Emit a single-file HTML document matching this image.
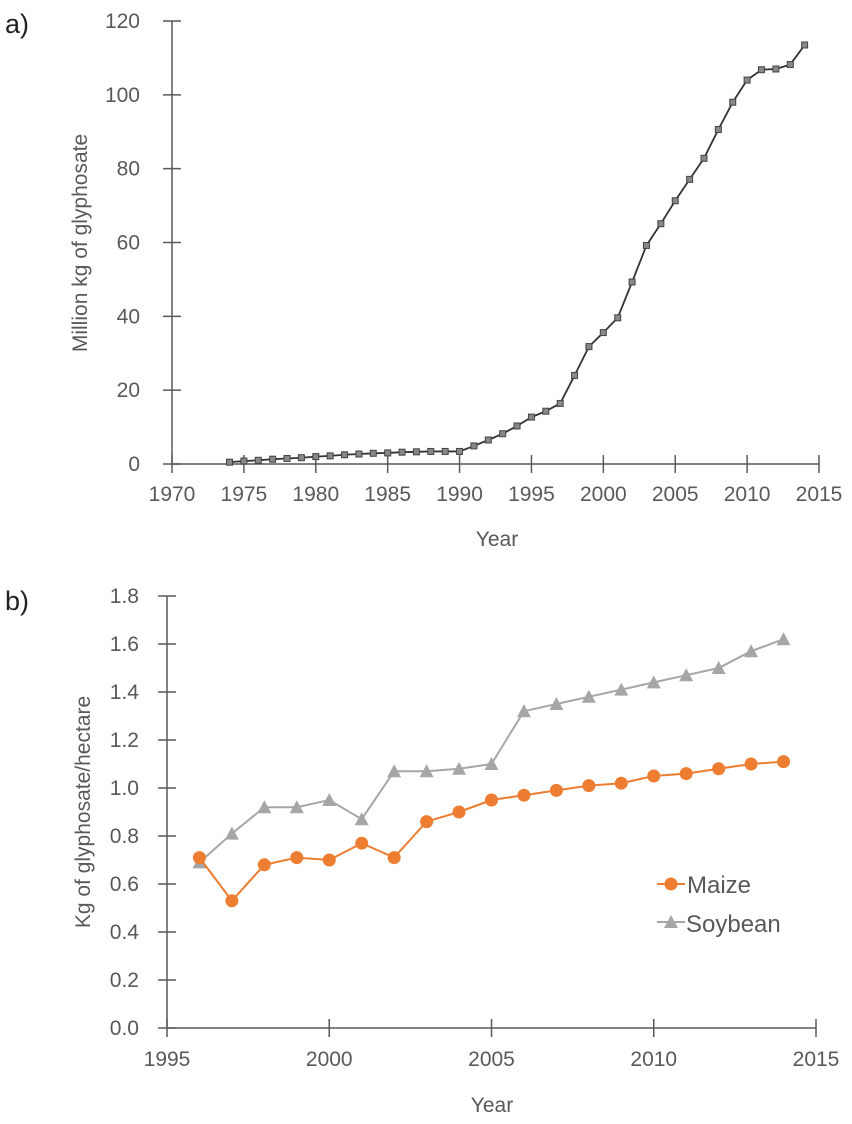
<!DOCTYPE html>
<html><head><meta charset="utf-8"><style>
body{margin:0;background:#fff;}
svg{display:block;font-family:"Liberation Sans",sans-serif;}
</style></head><body>
<svg id="s" width="852" height="1124" xmlns="http://www.w3.org/2000/svg"></svg>
<script>
const yearsA=[1974,1975,1976,1977,1978,1979,1980,1981,1982,1983,1984,1985,1986,1987,1988,1989,1990,1991,1992,1993,1994,1995,1996,1997,1998,1999,2000,2001,2002,2003,2004,2005,2006,2007,2008,2009,2010,2011,2012,2013,2014];
const glyphosate=[0.5,0.8,1.0,1.3,1.5,1.7,2.0,2.2,2.5,2.7,2.9,3.0,3.2,3.3,3.4,3.4,3.4,4.9,6.5,8.2,10.3,12.7,14.3,16.4,24,31.8,35.6,39.6,49.3,59.2,65.1,71.3,77.1,82.8,90.6,98,104,106.8,107,108.2,113.5];
const xTicksA=[1970,1975,1980,1985,1990,1995,2000,2005,2010,2015];
const yTicksA=[0,20,40,60,80,100,120];
const yearsB=[1996,1997,1998,1999,2000,2001,2002,2003,2004,2005,2006,2007,2008,2009,2010,2011,2012,2013,2014];
const maize=[0.71,0.53,0.68,0.71,0.70,0.77,0.71,0.86,0.90,0.95,0.97,0.99,1.01,1.02,1.05,1.06,1.08,1.10,1.11];
const soybean=[0.69,0.81,0.92,0.92,0.95,0.87,1.07,1.07,1.08,1.10,1.32,1.35,1.38,1.41,1.44,1.47,1.50,1.57,1.62];
const xTicksB=[1995,2000,2005,2010,2015];
const yTicksB=[0,0.2,0.4,0.6,0.8,1.0,1.2,1.4,1.6,1.8];

const S=document.getElementById('s');const NS='http://www.w3.org/2000/svg';
function mk(t,a,txt){const e=document.createElementNS(NS,t);for(const k in a)e.setAttribute(k,a[k]);if(txt!==undefined)e.textContent=txt;S.appendChild(e);return e;}
const ax=v=>172+(v-1970)*(819-172)/45, ay=v=>464-v*(464-21)/120;
const bx=v=>167+(v-1995)*(816-167)/20, by=v=>1028-v*(1028-596)/1.8;
const C='#595959';
// panel a
let e=mk('text',{x:5,y:33,'font-size':27,fill:'#222'},'a)');

e=mk('line',{x1:172,y1:21,x2:172,y2:464,stroke:C,'stroke-width':1.5});

e=mk('line',{x1:172,y1:464,x2:819,y2:464,stroke:C,'stroke-width':1.5});

yTicksA.forEach(v=>{mk('line',{x1:163,x2:181,y1:ay(v),y2:ay(v),stroke:C,'stroke-width':1.5});
e=mk('text',{x:140,y:ay(v)+7,'font-size':21,fill:C,'text-anchor':'end'},v);
});
xTicksA.forEach(v=>{mk('line',{x1:ax(v),x2:ax(v),y1:455,y2:473,stroke:C,'stroke-width':1.5});
e=mk('text',{x:ax(v),y:501,'font-size':21,fill:C,'text-anchor':'middle'},v);
});
e=mk('text',{x:497,y:546,'font-size':21,fill:C,'text-anchor':'middle'},'Year');

e=mk('text',{x:0,y:0,'font-size':21,fill:C,'text-anchor':'middle',transform:'translate(87,243) rotate(-90)'},'Million kg of glyphosate');

e=mk('polyline',{points:yearsA.map((y,i)=>ax(y)+','+ay(glyphosate[i])).join(' '),fill:'none',stroke:'#333','stroke-width':1.8});

yearsA.forEach((y,i)=>{e=mk('rect',{x:ax(y)-3,y:ay(glyphosate[i])-3,width:6,height:6,fill:'#888',stroke:'#444','stroke-width':1});
});
// panel b
e=mk('text',{x:5,y:610,'font-size':27,fill:'#222'},'b)');

e=mk('line',{x1:167,y1:596,x2:167,y2:1028,stroke:C,'stroke-width':1.5});

e=mk('line',{x1:167,y1:1028,x2:816,y2:1028,stroke:C,'stroke-width':1.5});

yTicksB.forEach(v=>{mk('line',{x1:158,x2:176,y1:by(v),y2:by(v),stroke:C,'stroke-width':1.5});
e=mk('text',{x:139,y:by(v)+7,'font-size':21,fill:C,'text-anchor':'end'},v.toFixed(1));
});
xTicksB.forEach(v=>{mk('line',{x1:bx(v),x2:bx(v),y1:1019,y2:1037,stroke:C,'stroke-width':1.5});
e=mk('text',{x:bx(v),y:1066,'font-size':21,fill:C,'text-anchor':'middle'},v);
});
e=mk('text',{x:492,y:1112,'font-size':21,fill:C,'text-anchor':'middle'},'Year');

e=mk('text',{x:0,y:0,'font-size':21,fill:C,'text-anchor':'middle',transform:'translate(90,812) rotate(-90)'},'Kg of glyphosate/hectare');

e=mk('polyline',{points:yearsB.map((y,i)=>bx(y)+','+by(soybean[i])).join(' '),fill:'none',stroke:'#a6a6a6','stroke-width':2});

yearsB.forEach((y,i)=>{const X=bx(y),Y=by(soybean[i]);e=mk('polygon',{points:`${X-7},${Y+6} ${X+7},${Y+6} ${X},${Y-7}`,fill:'#a6a6a6'});
});
e=mk('polyline',{points:yearsB.map((y,i)=>bx(y)+','+by(maize[i])).join(' '),fill:'none',stroke:'#ed7d31','stroke-width':2});

yearsB.forEach((y,i)=>{e=mk('circle',{cx:bx(y),cy:by(maize[i]),r:6.5,fill:'#ed7d31'});
});
// legend
mk('line',{x1:657,x2:685,y1:884,y2:884,stroke:'#ed7d31','stroke-width':2});
e=mk('circle',{cx:671,cy:884,r:6.5,fill:'#ed7d31'});

e=mk('text',{x:687,y:893,'font-size':24,fill:C},'Maize');

mk('line',{x1:657,x2:685,y1:922,y2:922,stroke:'#a6a6a6','stroke-width':2});
e=mk('polygon',{points:'664,928 678,928 671,915',fill:'#a6a6a6'});

e=mk('text',{x:686,y:932,'font-size':24,fill:C},'Soybean');

</script>
</body></html>
